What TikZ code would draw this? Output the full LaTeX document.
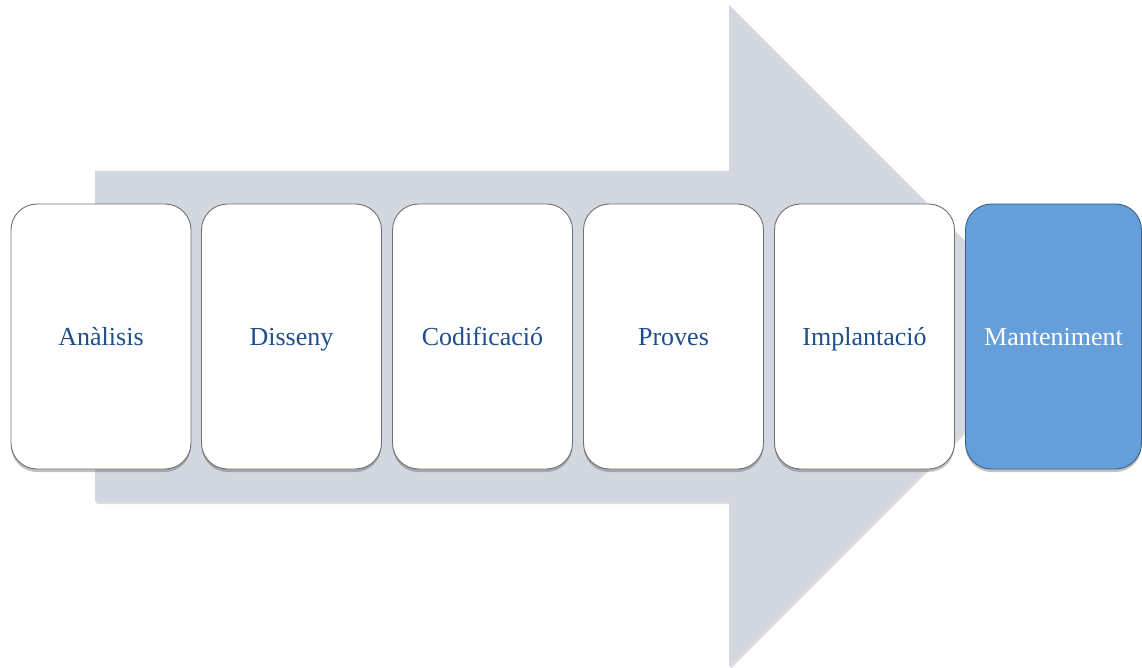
\documentclass[tikz,border=0pt]{standalone}
\usepackage{fontspec}
\setmainfont{Liberation Serif}
\usetikzlibrary{shadows}
\definecolor{arrowgray}{HTML}{D3D7DF}
\definecolor{stagetext}{HTML}{1F4E89}
\definecolor{stageblue}{HTML}{649FDB}
\definecolor{stageedge}{HTML}{707070}
\definecolor{blueedge}{HTML}{3F5F80}
\tikzset{
  stage/.style={draw=stageedge, line width=0.9pt, fill=white, rounded corners=26pt,
    minimum width=180pt, minimum height=265pt, inner sep=0pt,
    text height=23pt, text depth=6pt,
    text=stagetext, font=\fontsize{26}{30}\selectfont,
    drop shadow={shadow xshift=0pt, shadow yshift=-3pt, opacity=0.35, fill=black!70}},
  laststage/.style={stage, fill=stageblue, draw=blueedge, text=white},
  bigarrow/.style={fill=arrowgray, draw=none,
    drop shadow={shadow xshift=1.5pt, shadow yshift=-2pt, opacity=0.25}},
}
\begin{document}
\begin{tikzpicture}[x=1pt, y=-1pt]
  \useasboundingbox (0,0) rectangle (1142,668);
  % background process arrow
  \fill[bigarrow] (95,171) -- (729,171) -- (729,5) -- (1060,336) -- (729,667)
    -- (729,502) -- (95,502) -- cycle;
  % process stages
  \node[stage] (s1) at (101,336.5) {Anàlisis};
  \node[stage] (s2) at (291.5,336.5) {Disseny};
  \node[stage] (s3) at (482.5,336.5) {Codificació};
  \node[stage] (s4) at (673.5,336.5) {Proves};
  \node[stage] (s5) at (864.5,336.5) {Implantació};
  \node[laststage, minimum width=176pt] (s6) at (1053.5,336.5) {Manteniment};
\end{tikzpicture}
\end{document}
